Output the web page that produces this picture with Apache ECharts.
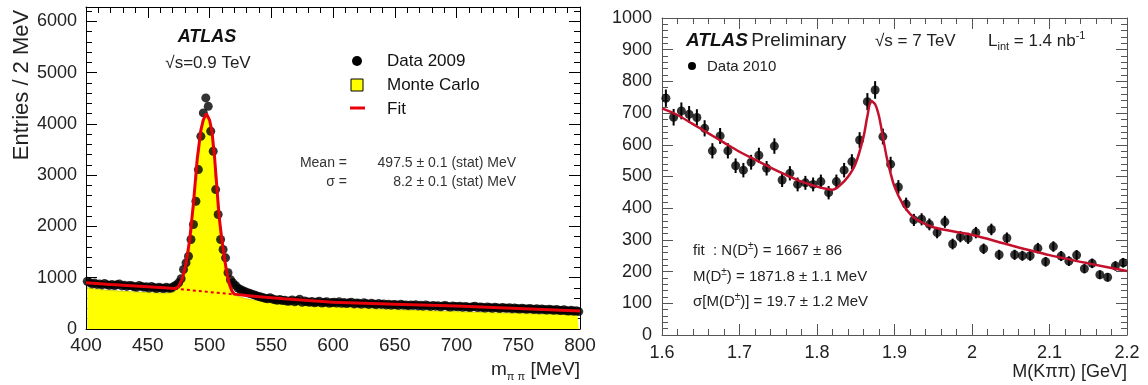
<!DOCTYPE html>
<html>
<head>
<meta charset="utf-8">
<script src="https://cdn.jsdelivr.net/npm/echarts@6/dist/echarts.min.js"></script>
<style>
  body { margin: 0; background: #fff; }
  #main { width: 1148px; height: 385px; }
</style>
</head>
<body>
<div id="main"></div>
<script>
// ---- left panel: K0s -> pi pi, 2 MeV bins, centres 401 .. 799
let leftBinStart = 401;
let leftBinWidth = 2;

let leftData = [
  930, 905, 880, 895, 870, 880, 860, 885, 865, 850,
  870, 845, 862, 880, 840, 855, 830, 850, 845, 822,
  815, 850, 830, 812, 825, 800, 830, 808, 790, 815,
  800, 790, 815, 795, 800, 830, 860, 900, 980, 1160,
  1290, 1419, 1745, 2037, 2491, 3109, 3758, 4215, 4507, 4343,
  3856, 3466, 2719, 2232, 1745, 1550, 1388, 1096, 960, 900,
  850, 800, 770, 745, 725, 706, 690, 675, 660, 640,
  630, 612, 600, 590, 610, 585, 570, 560, 575, 555,
  560, 540, 545, 565, 530, 550, 580, 520, 545, 530,
  520, 535, 510, 525, 540, 505, 520, 530, 500, 515,
  520, 505, 530, 500, 515, 495, 510, 520, 490, 505,
  500, 485, 510, 495, 480, 500, 490, 475, 495, 480,
  490, 470, 485, 465, 480, 475, 460, 485, 465, 470,
  455, 470, 460, 475, 450, 465, 445, 470, 455, 440,
  460, 445, 455, 435, 450, 460, 440, 430, 450, 440,
  435, 445, 425, 440, 430, 420, 435, 445, 420, 430,
  425, 410, 430, 420, 405, 425, 415, 400, 420, 410,
  405, 415, 395, 410, 400, 390, 405, 395, 385, 400,
  390, 380, 395, 375, 390, 380, 370, 385, 375, 365,
  380, 365, 360, 375, 355, 350, 365, 345, 355, 340
];

let leftMC = [
  808, 796, 792, 780, 779, 768, 766, 758, 757, 749,
  750, 743, 744, 736, 738, 731, 732, 726, 727, 720,
  722, 716, 718, 711, 713, 707, 710, 703, 706, 700,
  702, 697, 700, 703, 710, 725, 750, 790, 860, 980,
  1200, 1500, 1880, 2350, 2900, 3450, 3850, 4080, 4150, 4080,
  3880, 3500, 2950, 2350, 1850, 1450, 1130, 900, 780, 700,
  650, 625, 612, 598, 590, 578, 572, 563, 558, 549,
  545, 537, 534, 526, 523, 516, 514, 507, 505, 498,
  497, 490, 489, 482, 481, 475, 474, 468, 467, 461,
  460, 455, 454, 448, 448, 442, 442, 437, 436, 431,
  431, 426, 426, 421, 421, 416, 416, 412, 411, 407,
  407, 403, 402, 399, 398, 395, 394, 391, 390, 387,
  386, 383, 383, 379, 379, 376, 375, 372, 372, 369,
  368, 365, 365, 362, 361, 359, 358, 355, 355, 352,
  351, 349, 348, 346, 345, 343, 342, 340, 339, 337,
  336, 334, 333, 331, 330, 328, 327, 325, 324, 322,
  321, 320, 318, 317, 316, 314, 313, 312, 310, 309,
  308, 306, 305, 304, 302, 301, 300, 298, 297, 296,
  295, 293, 292, 291, 290, 289, 287, 286, 285, 284,
  283, 282, 281, 280, 279, 278, 277, 276, 275, 274
];

// fit curve
let leftFitX = [400, 420, 440, 460, 472, 475, 478, 481, 484, 487, 490, 493, 495, 497.5, 500, 502, 504, 506, 508, 510, 512, 514, 516, 518, 520, 530, 540, 560, 580, 600, 650, 700, 750, 800];
let leftFitY = [900, 868, 838, 808, 788, 830, 980, 1280, 1750, 2450, 3300, 3880, 4080, 4200, 4080, 3850, 3380, 2750, 2150, 1745, 1400, 1100, 880, 750, 680, 652, 630, 590, 555, 522, 485, 448, 400, 350];
// background part of the fit under the peak (dotted)
let leftBgX = [472, 496, 520];
let leftBgY = [788, 730, 675];

let leftXTicks = [400, 800, 50];
let leftYTicks = [0, 6280, 1000];

// ---- right panel: D+- -> K pi pi, 10 MeV bins, centres 1.605 .. 2.195 GeV
let rightBinStart = 1.605;
let rightBinWidth = 0.01;

let rightData = [
  747, 687, 707, 696, 686, 652, 581, 628, 581, 534,
  520, 545, 567, 526, 596, 489, 510, 475, 480, 475,
  484, 449, 484, 520, 547, 615, 736, 773, 626, 539,
  467, 413, 363, 365, 349, 323, 357, 287, 310, 305,
  323, 272, 333, 253, 306, 253, 250, 250, 274, 231,
  279, 249, 233, 252, 209, 226, 190, 182, 218, 228
];

let rightFitX = [1.60, 1.62, 1.64, 1.66, 1.68, 1.70, 1.72, 1.74, 1.76, 1.78, 1.80, 1.81, 1.82, 1.83, 1.84, 1.85, 1.86, 1.865, 1.87, 1.875, 1.88, 1.885, 1.89, 1.895, 1.90, 1.91, 1.92, 1.93, 1.95, 1.98, 2.00, 2.05, 2.10, 2.15, 2.20];
let rightFitY = [715, 694, 665, 636, 607, 578, 553, 528, 505, 484, 468, 462, 458, 473, 499, 542, 625, 690, 738, 728, 690, 625, 560, 510, 468, 416, 382, 362, 340, 325, 316, 283, 252, 226, 202];

let rightXTicks = [1.6, 2.2, 0.1];
let rightYTicks = [0, 1000, 100];

// ---- helpers
let pairs = (xs, ys) => xs.map((x, i) => [x, ys[i]]);
let binned = (start, width, vals) => vals.map((v, i) => [+(start + i * width).toFixed(4), v]);

let FONT = '"Liberation Sans", Arial, sans-serif';

let makeX = function (grid, ticks, pos, showLabel, color, labelSize, margin) {
  return {
    type: 'value', gridIndex: grid, position: pos,
    min: ticks[0], max: ticks[1], interval: ticks[2],
    axisLine: { show: true, onZero: false, lineStyle: { color: color, width: 1 } },
    axisTick: { show: true, inside: true, length: 11, lineStyle: { color: color } },
    minorTick: { show: true, splitNumber: 5, length: 6, lineStyle: { color: color } },
    axisLabel: { show: showLabel, color: '#222', fontSize: labelSize, fontFamily: FONT, margin: margin },
    splitLine: { show: false }
  };
};
let makeY = function (grid, ticks, pos, showLabel, color, labelSize, margin) {
  let ax = makeX(grid, ticks, pos, showLabel, color, labelSize, margin);
  ax.axisLabel.formatter = (v) => (Math.abs(v / ticks[2] - Math.round(v / ticks[2])) < 1e-6 ? String(v) : '');
  return ax;
};

let myEchart = echarts.init(document.getElementById('main'));

let errorBars = function (params, api) {
  let x = api.value(0), y = api.value(1), e = Math.sqrt(y);
  let p1 = api.coord([x, y - e]);
  let p2 = api.coord([x, y + e]);
  return {
    type: 'line',
    shape: { x1: p1[0], y1: p1[1], x2: p2[0], y2: p2[1] },
    style: { stroke: '#000', lineWidth: 2 }
  };
};

let option = {
  animation: false,
  backgroundColor: '#fff',
  grid: [
    { left: 86, top: 7, width: 494, height: 322 },
    { left: 662, top: 18, width: 465, height: 317 }
  ],
  xAxis: [
    makeX(0, leftXTicks, 'bottom', true, '#000', 19, 7),
    makeX(0, leftXTicks, 'top', false, '#000', 19, 7),
    makeX(1, rightXTicks, 'bottom', true, '#555', 18, 9),
    makeX(1, rightXTicks, 'top', false, '#555', 18, 9)
  ],
  yAxis: [
    makeY(0, leftYTicks, 'left', true, '#000', 18, 9),
    makeY(0, leftYTicks, 'right', false, '#000', 18, 9),
    makeY(1, rightYTicks, 'left', true, '#555', 18, 10),
    makeY(1, rightYTicks, 'right', false, '#555', 18, 10)
  ],
  series: [
    {
      name: 'Monte Carlo', type: 'line', xAxisIndex: 0, yAxisIndex: 0,
      step: 'middle', symbol: 'none',
      lineStyle: { color: '#d8d800', width: 1 },
      areaStyle: { color: '#ffff00', opacity: 1 },
      data: binned(leftBinStart, leftBinWidth, leftMC), z: 1
    },
    {
      name: 'Data 2009', type: 'scatter', xAxisIndex: 0, yAxisIndex: 0,
      symbol: 'circle', symbolSize: 9,
      itemStyle: { color: '#000' },
      data: binned(leftBinStart, leftBinWidth, leftData), z: 3
    },
    {
      name: 'Fit', type: 'line', xAxisIndex: 0, yAxisIndex: 0,
      symbol: 'none', lineStyle: { color: '#e8000b', width: 3 },
      data: pairs(leftFitX, leftFitY), z: 4
    },
    {
      name: 'Fit bg', type: 'line', xAxisIndex: 0, yAxisIndex: 0,
      symbol: 'none', lineStyle: { color: '#e8000b', width: 2, type: [3, 3] },
      data: pairs(leftBgX, leftBgY), z: 2
    },
    {
      name: 'err 2010', type: 'custom', xAxisIndex: 2, yAxisIndex: 2,
      renderItem: errorBars,
      data: binned(rightBinStart, rightBinWidth, rightData), z: 3
    },
    {
      name: 'Data 2010', type: 'scatter', xAxisIndex: 2, yAxisIndex: 2,
      symbol: 'circle', symbolSize: 9,
      itemStyle: { color: '#000' },
      data: binned(rightBinStart, rightBinWidth, rightData), z: 3
    },
    {
      name: 'Fit 2010', type: 'line', xAxisIndex: 2, yAxisIndex: 2,
      symbol: 'none', smooth: 0.3,
      lineStyle: { color: '#c4102c', width: 2.5 },
      data: pairs(rightFitX, rightFitY), z: 4
    }
  ],
  graphic: [
    // left panel texts
    { type: 'text', x: 22, y: 85, rotation: Math.PI / 2,
      style: { text: 'Entries / 2 MeV', font: '22px ' + FONT, fill: '#222', align: 'center', verticalAlign: 'middle' } },
    { type: 'text', x: 207, y: 37,
      style: { text: 'ATLAS', font: 'italic bold 18px ' + FONT, fill: '#111', align: 'center', verticalAlign: 'middle' } },
    { type: 'text', x: 208, y: 63,
      style: { text: '√s=0.9 TeV', font: '17px ' + FONT, fill: '#222', align: 'center', verticalAlign: 'middle' } },
    { type: 'circle', shape: { cx: 357, cy: 61, r: 5 }, style: { fill: '#000' } },
    { type: 'rect', shape: { x: 351, y: 79, width: 12, height: 12 }, style: { fill: '#ffff00', stroke: '#000', lineWidth: 1 } },
    { type: 'line', shape: { x1: 350, y1: 108, x2: 365, y2: 108 }, style: { stroke: '#e8000b', lineWidth: 3 } },
    { type: 'text', x: 387, y: 61,
      style: { text: 'Data 2009', font: '17px ' + FONT, fill: '#111', verticalAlign: 'middle' } },
    { type: 'text', x: 387, y: 85,
      style: { text: 'Monte Carlo', font: '17px ' + FONT, fill: '#111', verticalAlign: 'middle' } },
    { type: 'text', x: 387, y: 109,
      style: { text: 'Fit', font: '17px ' + FONT, fill: '#111', verticalAlign: 'middle' } },
    { type: 'text', x: 347, y: 163,
      style: { text: 'Mean =', font: '14px ' + FONT, fill: '#333', align: 'right', verticalAlign: 'middle' } },
    { type: 'text', x: 516, y: 163,
      style: { text: '497.5 ± 0.1 (stat) MeV', font: '14px ' + FONT, fill: '#333', align: 'right', verticalAlign: 'middle' } },
    { type: 'text', x: 347, y: 182,
      style: { text: 'σ =', font: '14px ' + FONT, fill: '#333', align: 'right', verticalAlign: 'middle' } },
    { type: 'text', x: 516, y: 182,
      style: { text: '8.2 ± 0.1 (stat) MeV', font: '14px ' + FONT, fill: '#333', align: 'right', verticalAlign: 'middle' } },
    { type: 'text', x: 580, y: 370,
      style: {
        text: '{a|m}{s|π π}{a| [MeV]}', align: 'right', verticalAlign: 'middle',
        rich: {
          a: { font: '19px ' + FONT, fill: '#222', lineHeight: 24, verticalAlign: 'middle' },
          s: { font: '11px ' + FONT, fill: '#222', lineHeight: 11, verticalAlign: 'bottom' }
        }
      } },
    // right panel texts
    { type: 'text', x: 686, y: 41,
      style: {
        text: '{b|ATLAS} {r|Preliminary}', verticalAlign: 'middle',
        rich: {
          b: { font: 'italic bold 19px ' + FONT, fill: '#111' },
          r: { font: '19px ' + FONT, fill: '#222' }
        }
      } },
    { type: 'text', x: 875, y: 41,
      style: { text: '√s = 7 TeV', font: '17px ' + FONT, fill: '#222', verticalAlign: 'middle' } },
    { type: 'text', x: 988, y: 41,
      style: {
        text: '{a|L}{s|int}{a| = 1.4 nb}{p|-1}', verticalAlign: 'middle',
        rich: {
          a: { font: '17px ' + FONT, fill: '#222', lineHeight: 22, verticalAlign: 'middle' },
          s: { font: '11px ' + FONT, fill: '#222', lineHeight: 11, verticalAlign: 'bottom' },
          p: { font: '11px ' + FONT, fill: '#222', lineHeight: 11, verticalAlign: 'top' }
        }
      } },
    { type: 'circle', shape: { cx: 692, cy: 66, r: 4 }, style: { fill: '#000' } },
    { type: 'text', x: 707, y: 67,
      style: { text: 'Data 2010', font: '15px ' + FONT, fill: '#222', verticalAlign: 'middle' } },
    { type: 'text', x: 693, y: 251,
      style: {
        text: '{a|fit  : N(D}{p|±}{a|) = 1667 ± 86}', verticalAlign: 'middle',
        rich: {
          a: { font: '15px ' + FONT, fill: '#222', lineHeight: 20, verticalAlign: 'middle' },
          p: { font: '10px ' + FONT, fill: '#222', lineHeight: 10, verticalAlign: 'top' }
        }
      } },
    { type: 'text', x: 693, y: 277,
      style: {
        text: '{a|M(D}{p|±}{a|) = 1871.8 ± 1.1 MeV}', verticalAlign: 'middle',
        rich: {
          a: { font: '15px ' + FONT, fill: '#222', lineHeight: 20, verticalAlign: 'middle' },
          p: { font: '10px ' + FONT, fill: '#222', lineHeight: 10, verticalAlign: 'top' }
        }
      } },
    { type: 'text', x: 693, y: 302,
      style: {
        text: '{a|σ[M(D}{p|±}{a|)] = 19.7 ± 1.2 MeV}', verticalAlign: 'middle',
        rich: {
          a: { font: '15px ' + FONT, fill: '#222', lineHeight: 20, verticalAlign: 'middle' },
          p: { font: '10px ' + FONT, fill: '#222', lineHeight: 10, verticalAlign: 'top' }
        }
      } },
    { type: 'text', x: 1127, y: 372,
      style: { text: 'M(Kππ) [GeV]', font: '18px ' + FONT, fill: '#222', align: 'right', verticalAlign: 'middle' } }
  ]
};

myEchart.setOption(option);
</script>
</body>
</html>
